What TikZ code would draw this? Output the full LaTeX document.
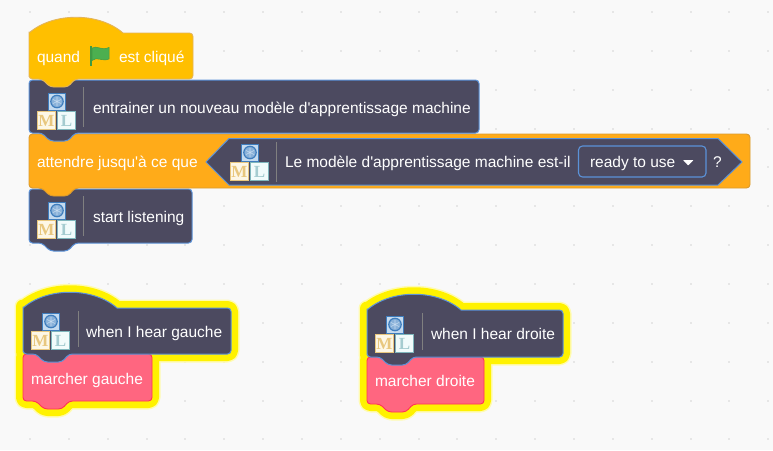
\documentclass[tikz,border=0pt]{standalone}
\usepackage{fontspec}
\newfontfamily\labelfont{Liberation Sans}
\newfontfamily\iconserif{Liberation Serif}
\definecolor{bgc}{HTML}{F9F9F9}
\definecolor{dotc}{HTML}{E6E6E6}
\definecolor{hatc}{HTML}{FFBF00}
\definecolor{hatb}{HTML}{E3B45A}
\definecolor{orgc}{HTML}{FFAB19}
\definecolor{orgb}{HTML}{D99A30}
\definecolor{darkc}{HTML}{4C4A60}
\definecolor{darkb}{HTML}{5B92D8}
\definecolor{redc}{HTML}{FF6680}
\definecolor{redb}{HTML}{FF3355}
\definecolor{glowc}{HTML}{FFF200}
\definecolor{glowp}{HTML}{FFFBB0}
\definecolor{bluec}{HTML}{3F7DBD}
\definecolor{bluef}{HTML}{C5DBF0}
\definecolor{mb}{HTML}{E8C77E}
\definecolor{mf}{HTML}{FDF7E6}
\definecolor{lb}{HTML}{7FB6BC}
\definecolor{lf}{HTML}{F1FBFB}
\definecolor{flagc}{HTML}{4CAF50}
\definecolor{flagb}{HTML}{3F9A45}
\tikzset{
  lbl/.style={anchor=base west,inner sep=0pt,outer sep=0pt,text=white,font=\labelfont\fontsize{15.5}{17}\selectfont},
  hatblock/.style={fill=hatc,draw=hatb,line width=.9pt},
  orgblock/.style={fill=orgc,draw=orgb,line width=.9pt},
  darkblock/.style={fill=darkc,draw=darkb,line width=1pt},
  redblock/.style={fill=redc,draw=redb,line width=.9pt},
  glowA/.style={draw=glowp,line width=17pt,line join=round},
  glowB/.style={draw=glowc,line width=14pt,line join=round},
  divider/.style={draw=gray,line width=.8pt},
  iconletter/.style={inner sep=0pt,outer sep=0pt,font=\iconserif\bfseries\fontsize{17}{17}\selectfont},
}
\newcommand{\stackpath}[4]{[rounded corners=3.5pt] (#1,#2) -- (#3,#2) -- (#3,#4) -- ({#1+46},#4) -- ({#1+39},{#4+8}) -- ({#1+21},{#4+8}) -- ({#1+13},#4) -- (#1,#4) -- cycle}
\newcommand{\hatpath}[4]{[rounded corners=3.5pt] (#1,#4) -- (#1,{#2+2}) [rounded corners=0pt] -- (#1,{#2}) .. controls ({#1+24},{#2-21}) and ({#1+70},{#2-21}) .. ({#1+94},#2) [rounded corners=3.5pt] -- (#3,#2) -- (#3,#4) -- ({#1+46},#4) -- ({#1+39},{#4+8}) -- ({#1+21},{#4+8}) -- ({#1+13},#4) -- (#1,#4) -- cycle}
\newcommand{\mlicon}[3]{
  \draw[bluec,fill=bluef,line width=1pt] ({#1+11.5},{#2-18}) rectangle ({#1+28.5},{#2-1});
  \draw[bluec,line width=1.2pt,fill=bluef!55!bluec] ({#1+20},{#2-9.5}) circle (6.2pt);
  \draw[bluef,line width=.6pt] ({#1+16},{#2-11.5}) -- ({#1+24},{#2-7.5}) ({#1+24},{#2-11.5}) -- ({#1+16},{#2-7.5}) ({#1+20},{#2-14}) -- ({#1+20},{#2-5});
  \draw[mb,fill=mf,line width=1pt] ({#1+.5},{#2+.5}) rectangle ({#1+18.5},{#2+18.5});
  \draw[lb,fill=lf,line width=1pt] ({#1+20.5},{#2+.5}) rectangle ({#1+38.5},{#2+18.5});
  \node[iconletter,text=mb] (#3M) at ({#1+9.5},{#2+9.5}) {M};
  \node[iconletter,text=lb!70!white] (#3L) at ({#1+29.5},{#2+9.5}) {L};
}
\begin{document}
\begin{tikzpicture}[x=1pt,y=-1pt]
\useasboundingbox (0,0) rectangle (773,450);
\fill[bgc] (0,0) rectangle (773,450);
\foreach \i in {0,...,19}{
  \foreach \j in {0,...,11}{
    \fill[dotc] ({30+38.86*\i-1},{12+38.86*\j-1}) rectangle ++(2,2);
  }
}
% main stack (lowest block first)
\draw[darkblock] \stackpath{29}{189}{192}{243};
\mlicon{37}{220}{s4}
\draw[divider] (83,196) -- (83,236);
\draw[orgblock] \stackpath{29}{134}{750}{188};
\draw[darkblock] (206,162) -- (229,138.5) -- (718,138.5) -- (742,162) -- (718,185) -- (229,185) -- cycle;
\mlicon{230}{162}{s3}
\draw[divider] (276,142) -- (276,182);
\draw[darkblock,rounded corners=4pt,line width=1.1pt] (578.5,146) rectangle (706,177);
\fill[white,rounded corners=.6pt] (683,160) -- (693.5,160) -- (688.2,165.5) -- cycle;
\draw[darkblock] \stackpath{29}{80}{479}{133};
\mlicon{37}{111}{s2}
\draw[divider] (83,87) -- (83,127);
\draw[hatblock] \hatpath{29}{33}{193}{79};
\draw[flagb,line width=1.4pt] (91,46) -- (91,66);
\fill[flagc,draw=flagb,line width=.5pt] (92,48) .. controls (97,45) and (101,51) .. (109,47.5) -- (109,59) .. controls (102,62) and (97,56) .. (92,60.5) -- cycle;
% left group
\draw[glowA] \hatpath{23}{308}{231}{354};
\draw[glowA] \stackpath{23}{354}{152}{401};
\draw[glowB] \hatpath{23}{308}{231}{354};
\draw[glowB] \stackpath{23}{354}{152}{401};
\draw[redblock] \stackpath{23}{354}{152}{401};
\draw[darkblock] \hatpath{23}{308}{231}{354};
\mlicon{31}{331}{g1}
\draw[divider] (78,311) -- (78,347);
% right group
\draw[glowA] \hatpath{367}{310}{563}{357};
\draw[glowA] \stackpath{367}{357}{484}{404};
\draw[glowB] \hatpath{367}{310}{563}{357};
\draw[glowB] \stackpath{367}{357}{484}{404};
\draw[redblock] \stackpath{367}{357}{484}{404};
\draw[darkblock] \hatpath{367}{310}{563}{357};
\mlicon{375}{334}{g2}
\draw[divider] (422,313) -- (422,350);
% labels
\node[lbl] (quand) at (37,62) {quand};
\node[lbl] (clique) at (119,62) {est cliqué};
\node[lbl] (train) at (93,113) {entrainer un nouveau modèle d'apprentissage machine};
\node[lbl] (attendre) at (37,167) {attendre jusqu'à ce que};
\node[lbl] (modele) at (285,167) {Le modèle d'apprentissage machine est-il};
\node[lbl] (ready) at (590,167) {ready to use};
\node[lbl] (q) at (713,167) {?};
\node[lbl] (listen) at (93,222) {start listening};
\node[lbl] (hearg) at (86,337) {when I hear gauche};
\node[lbl] (marg) at (31,384) {marcher gauche};
\node[lbl] (heard) at (431,339) {when I hear droite};
\node[lbl] (mard) at (375,386) {marcher droite};
\end{tikzpicture}
\end{document}
